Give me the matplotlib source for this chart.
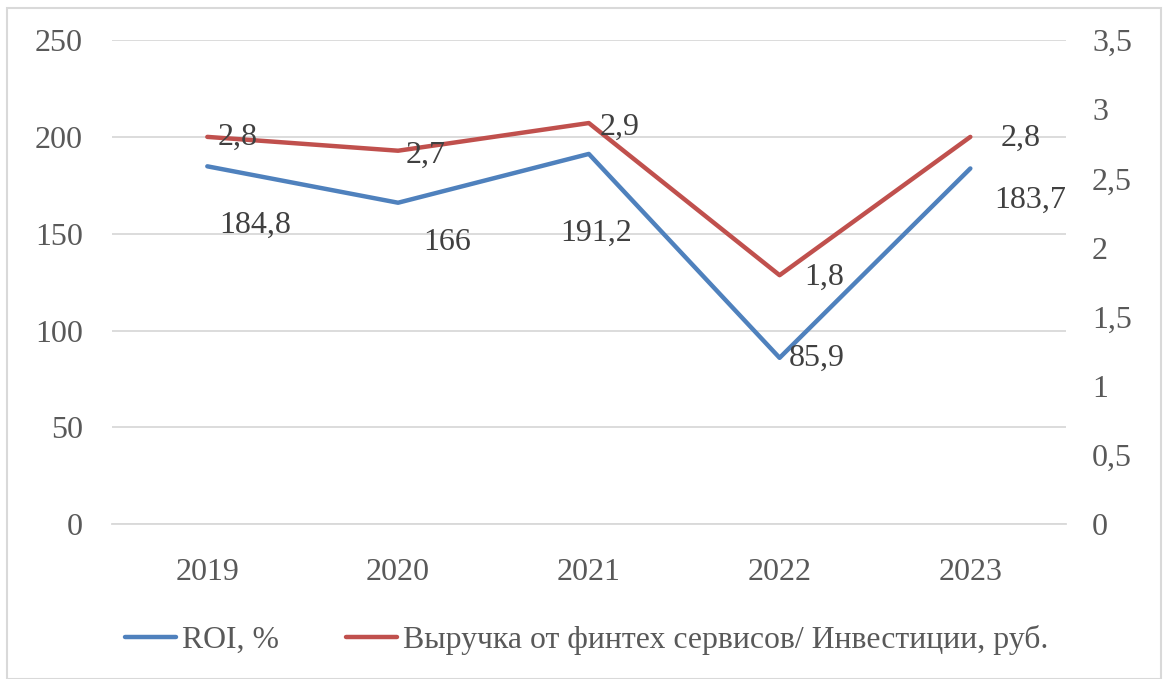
import matplotlib
matplotlib.use("Agg")
import matplotlib.pyplot as plt
from matplotlib.patches import Rectangle
from matplotlib.ticker import FuncFormatter

plt.rcParams["font.family"] = ["Liberation Serif", "DejaVu Serif"]

years = ["2019", "2020", "2021", "2022", "2023"]
roi = [184.8, 166, 191.2, 85.9, 183.7]
ratio = [2.8, 2.7, 2.9, 1.8, 2.8]
roi_labels = ["184,8", "166", "191,2", "85,9", "183,7"]
ratio_labels = ["2,8", "2,7", "2,9", "1,8", "2,8"]

blue = "#4F81BD"
red = "#C0504D"
grid_c = "#D9D9D9"
tick_c = "#595959"
label_c = "#404040"

fig = plt.figure(figsize=(11.66, 6.79), dpi=100)
ax = fig.add_axes([0.096, 0.228, 0.818, 0.713])
ax2 = ax.twinx()

x = list(range(len(years)))
l1, = ax.plot(x, roi, color=blue, lw=3.2, solid_capstyle="round", label="ROI, %")
l2, = ax2.plot(x, ratio, color=red, lw=3.2, solid_capstyle="round",
               label="Выручка от финтех сервисов/ Инвестиции, руб.")

ax.set_xlim(-0.5, 4.5)
ax.set_ylim(0, 250)
ax2.set_ylim(0, 3.5)
ax.set_yticks([0, 50, 100, 150, 200, 250])
ax2.set_yticks([0, 0.5, 1, 1.5, 2, 2.5, 3, 3.5])
ax2.yaxis.set_major_formatter(FuncFormatter(lambda v, p: f"{v:g}".replace(".", ",")))
ax.set_xticks(x)
ax.set_xticklabels(years)

ax.grid(axis="y", color=grid_c, lw=1.3)
ax.set_axisbelow(True)
for a in (ax, ax2):
    for s in a.spines.values():
        s.set_visible(False)
ax.spines["bottom"].set_visible(True)
ax.spines["bottom"].set_color(grid_c)
ax.spines["bottom"].set_linewidth(1.3)

fs = 23
ax.tick_params(axis="y", length=0, pad=21, labelsize=fs, labelcolor=tick_c)
ax.tick_params(axis="x", length=0, pad=24, labelsize=fs, labelcolor=tick_c)
ax2.tick_params(axis="y", length=0, pad=19, labelsize=fs, labelcolor=tick_c)

roi_off = [(48, -59), (49, -40), (7, -79), (37, 0), (60, -32)]
ratio_off = [(30, 0), (28, -5), (31, -4), (45, -2), (50, -1)]
for i in x:
    ax.annotate(roi_labels[i], (i, roi[i]), xytext=roi_off[i], textcoords="offset pixels",
                ha="center", va="center", fontsize=fs, color=label_c)
    ax2.annotate(ratio_labels[i], (i, ratio[i]), xytext=ratio_off[i], textcoords="offset pixels",
                 ha="center", va="center", fontsize=fs, color=label_c)

fig.legend(handles=[l1, l2], loc="center", bbox_to_anchor=(0.503, 0.057), ncol=2,
           frameon=False, fontsize=22.9, labelcolor=tick_c, handlelength=1.6,
           handletextpad=0.2, columnspacing=2.1)

fig.patches.append(Rectangle((0.006, 0.0), 0.99, 0.988, transform=fig.transFigure,
                             fill=False, edgecolor=grid_c, lw=1.5))

fig.savefig("out.png", dpi=100)
